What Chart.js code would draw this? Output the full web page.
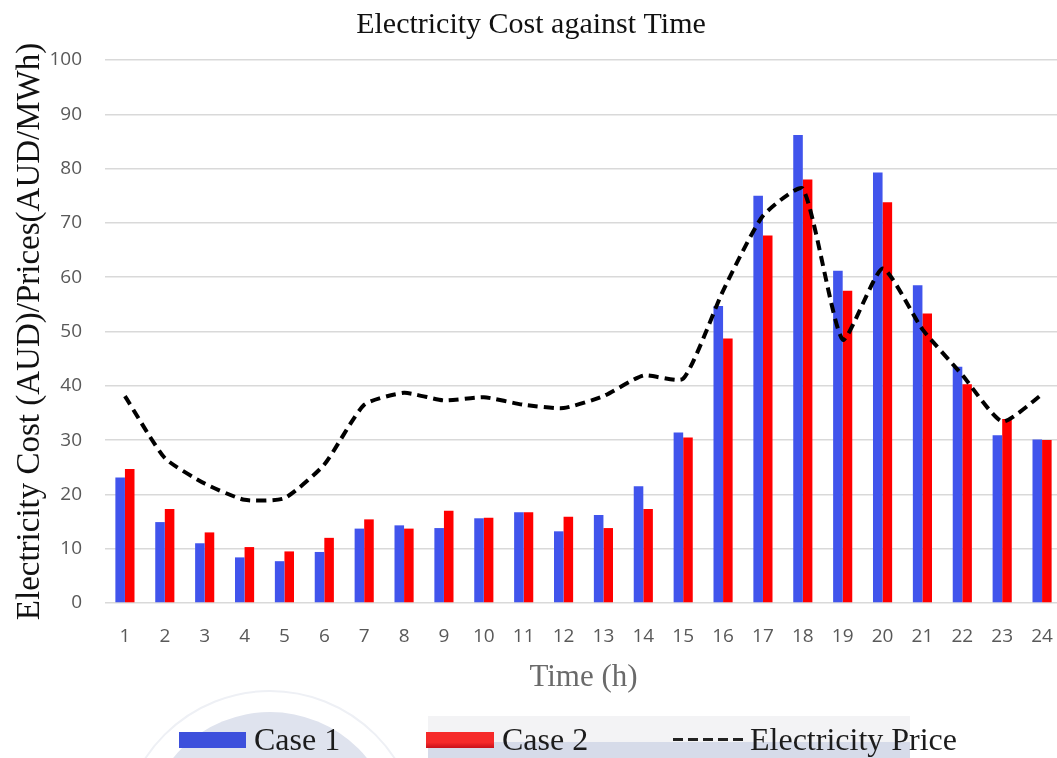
<!DOCTYPE html>
<html>
<head>
<meta charset="utf-8">
<script src="https://cdn.jsdelivr.net/npm/chart.js@4.4.1/dist/chart.umd.min.js"></script>
<style>
  html, body { margin: 0; padding: 0; background: #fff; }
  #frame { position: relative; width: 1057px; height: 758px; overflow: hidden; background: #fff; }
  #plot { position: absolute; left: 0; top: 0; width: 1093px; height: 758px; }
  .seal { position: absolute; border-radius: 50%; }
  .legend-text { position: absolute; top: 723px; font-family: "Liberation Serif", "Times New Roman", serif; font-size: 32px; line-height: 32px; color: #1c1c1c; white-space: nowrap; }
  .legend-box { position: absolute; top: 732px; height: 16px; }
  .legend-dash { position: absolute; top: 738px; height: 3px;
                 background: repeating-linear-gradient(to right, #222 0 10px, transparent 10px 15px); }
</style>
</head>
<body>
<div id="frame">
  <!-- faint emblem and panel behind the legend -->
  <div class="seal" style="left:120px; top:690px; width:300px; height:300px; border:2px solid #eef0f5; box-sizing:border-box;"></div>
  <div class="seal" style="left:145px; top:712px; width:250px; height:250px; background:#dfe3ee;"></div>
  <div style="position:absolute; left:428px; top:716px; width:482px; height:26px; background:#f3f3f5;"></div>
  <div style="position:absolute; left:428px; top:742px; width:482px; height:16px; background:#d6dbe9;"></div>

  <div id="plot"><canvas id="c" width="1093" height="758"></canvas></div>

  <div class="legend-box" style="left:179px; width:67px; background:#3d50dc;"></div>
  <div class="legend-text" style="left:254px;">Case 1</div>
  <div class="legend-box" style="left:426px; width:68px; background:linear-gradient(#f62a2a 0%, #f62a2a 65%, #c8101a 100%);"></div>
  <div class="legend-text" style="left:502px;">Case 2</div>
  <div class="legend-dash" style="left:673px; width:73px;"></div>
  <div class="legend-text" style="left:750px;">Electricity Price</div>
</div>

<script>
// Hours of the day
const hours = ['1','2','3','4','5','6','7','8','9','10','11','12','13','14','15','16','17','18','19','20','21','22','23','24'];

// Electricity cost per hour (AUD)
const case1Cost = [23.1, 14.9, 11.0, 8.4, 7.7, 9.4, 13.7, 14.3, 13.8, 15.6, 16.7, 13.2,
                   16.2, 21.5, 31.4, 54.7, 75.0, 86.2, 61.2, 79.3, 58.5, 43.5, 30.9, 30.1];
const case2Cost = [24.7, 17.3, 13.0, 10.3, 9.5, 12.0, 15.4, 13.7, 17.0, 15.7, 16.7, 15.9,
                   13.8, 17.3, 30.5, 48.7, 67.7, 78.0, 57.5, 73.8, 53.3, 40.3, 33.9, 30.0];

// Electricity price per hour (AUD/MWh)
const electricityPrice = [38.1, 26.7, 22.0, 19.0, 19.3, 25.5, 36.5, 38.7, 37.3, 37.9, 36.5, 35.9,
                          38.1, 41.9, 41.3, 57.5, 71.3, 76.3, 48.5, 61.6, 50.4, 42.0, 33.4, 38.4];

// Value axis ticks
const yMin = 0, yMax = 100, yStep = 10;

const serif = '"Liberation Serif", "Times New Roman", serif';
const sans = '"Open Sans", "Liberation Sans", sans-serif';

new Chart(document.getElementById('c'), {
  data: {
    labels: hours,
    datasets: [
      {
        type: 'line',
        label: 'Electricity Price',
        data: electricityPrice,
        borderColor: '#000000',
        borderWidth: 4,
        borderDash: [10, 6],
        borderCapStyle: 'butt',
        pointRadius: 0,
        tension: 0.18,
        fill: false,
        order: 0
      },
      {
        type: 'bar',
        label: 'Case 1',
        data: case1Cost,
        backgroundColor: '#4154ec',
        categoryPercentage: 0.48,
        barPercentage: 1.0,
        order: 1
      },
      {
        type: 'bar',
        label: 'Case 2',
        data: case2Cost,
        backgroundColor: '#ff0000',
        categoryPercentage: 0.48,
        barPercentage: 1.0,
        order: 2
      }
    ]
  },
  options: {
    responsive: false,
    animation: false,
    devicePixelRatio: 1,
    layout: { padding: { left: 0, right: 31, top: 0, bottom: 58 } },
    plugins: {
      legend: { display: false },
      tooltip: { enabled: false },
      title: {
        display: true,
        text: 'Electricity Cost against Time',
        color: '#111111',
        font: { family: serif, size: 30, weight: 'normal' },
        padding: { top: 7, bottom: 17 }
      }
    },
    scales: {
      x: {
        grid: { display: false, drawTicks: false },
        border: { display: false },
        ticks: { color: '#595959', font: { family: sans, size: 19 }, padding: 22, maxRotation: 0 },
        title: {
          display: true,
          text: 'Time (h)',
          color: '#6a6a6a',
          font: { family: serif, size: 31 },
          padding: { top: 0, bottom: 4 }
        },
        afterFit: (scale) => { scale.height = 97; }
      },
      y: {
        min: yMin,
        max: yMax,
        ticks: { stepSize: yStep, color: '#595959', font: { family: sans, size: 19 }, padding: 23 },
        grid: { color: '#d9d9d9', lineWidth: 1.5, drawTicks: false },
        border: { display: false },
        title: {
          display: true,
          text: 'Electricity Cost (AUD)/Prices(AUD/MWh)',
          color: '#111111',
          font: { family: serif, size: 33 },
          padding: { top: 11, bottom: 0 }
        },
        afterFit: (scale) => { scale.width = 105; }
      }
    }
  }
});
</script>
</body>
</html>
